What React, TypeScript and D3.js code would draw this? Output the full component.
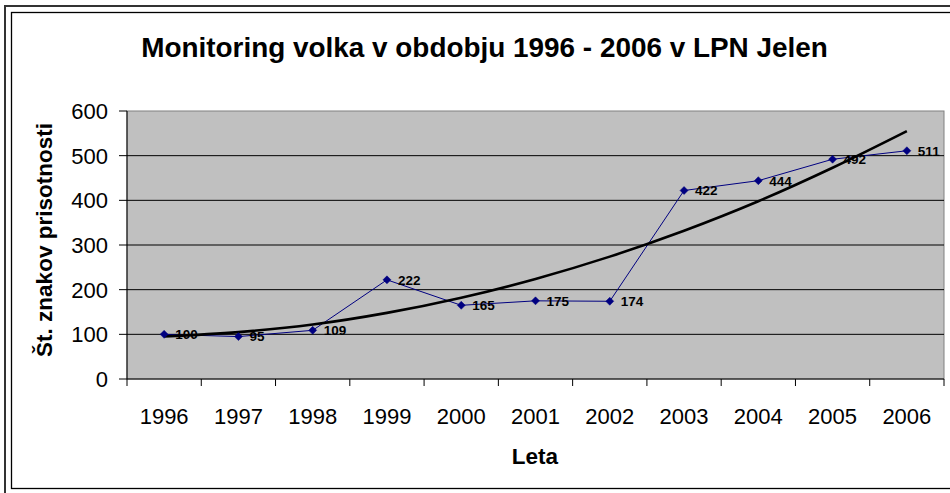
import React from 'react';
import * as d3 from 'd3';

const years = ['1996', '1997', '1998', '1999', '2000', '2001', '2002', '2003', '2004', '2005', '2006'];
const counts = [100, 95, 109, 222, 165, 175, 174, 422, 444, 492, 511];
const trendValues = [95, 105, 122, 148, 182, 224, 274, 332, 398, 473, 555];
const yTicks = [0, 100, 200, 300, 400, 500, 600];

const W = 950;
const H = 493;
const FONT = '"Liberation Sans", Arial, Helvetica, sans-serif';

export default function App() {
  const plot = { left: 127, right: 944, top: 111, bottom: 379 };
  const x = d3.scaleBand<string>().domain(years).range([plot.left, plot.right]).paddingInner(0).paddingOuter(0);
  const y = d3.scaleLinear().domain([0, 600]).range([plot.bottom, plot.top]);
  const cx = (yr: string) => (x(yr) as number) + x.bandwidth() / 2;

  const dataLine = d3
    .line<number>()
    .x((_, i) => cx(years[i]))
    .y((d) => y(d))(counts) as string;

  const trendLine = d3
    .line<number>()
    .x((_, i) => cx(years[i]))
    .y((d) => y(d))
    .curve(d3.curveCatmullRom)(trendValues) as string;

  const bandEdges = years.map((yr) => x(yr) as number).concat([plot.right]);

  return (
    <svg
      width={W}
      height={H}
      style={{ position: 'fixed', left: 0, top: 0, background: '#fff' }}
      fontFamily={FONT}
    >
      <rect x={0} y={0} width={W} height={H} fill="#fff" />
      {/* frame */}
      <rect x={5} y={6} width={980} height={520} fill="none" stroke="#333" strokeWidth={2} />
      <rect x={11.5} y={12.5} width={970} height={476} fill="none" stroke="#000" strokeWidth={1.3} />

      {/* title */}
      <text x={484.5} y={57} textAnchor="middle" fontWeight="bold" fontSize={27.9} fill="#000">
        Monitoring volka v obdobju 1996 - 2006 v LPN Jelen
      </text>

      {/* plot area */}
      <rect
        x={plot.left}
        y={plot.top}
        width={plot.right - plot.left}
        height={plot.bottom - plot.top}
        fill="#C0C0C0"
        stroke="#808080"
        strokeWidth={1}
      />

      {/* gridlines */}
      {yTicks
        .filter((t) => t > 0 && t < 600)
        .map((t) => (
          <line key={'g' + t} x1={plot.left} x2={plot.right} y1={y(t)} y2={y(t)} stroke="#000" strokeWidth={1} />
        ))}

      {/* y axis */}
      <line x1={plot.left} x2={plot.left} y1={plot.top} y2={plot.bottom} stroke="#000" strokeWidth={1} />
      {yTicks.map((t) => (
        <g key={'y' + t}>
          <line x1={plot.left - 8} x2={plot.left} y1={y(t)} y2={y(t)} stroke="#000" strokeWidth={1} />
          <text x={108} y={y(t)} dy="0.36em" textAnchor="end" fontSize={22} fill="#000">
            {t}
          </text>
        </g>
      ))}

      {/* x axis */}
      <line x1={plot.left} x2={plot.right} y1={plot.bottom} y2={plot.bottom} stroke="#000" strokeWidth={1} />
      {bandEdges.map((e, i) => (
        <line key={'xt' + i} x1={e} x2={e} y1={plot.bottom} y2={plot.bottom + 7} stroke="#000" strokeWidth={1} />
      ))}
      {years.map((yr) => (
        <text key={'xl' + yr} x={cx(yr)} y={424} textAnchor="middle" fontSize={22} fill="#000">
          {yr}
        </text>
      ))}

      {/* axis titles */}
      <text x={535} y={464} textAnchor="middle" fontWeight="bold" fontSize={22.5} fill="#000">
        Leta
      </text>
      <text
        transform={`translate(51.5, 240) rotate(-90)`}
        textAnchor="middle"
        fontWeight="bold"
        fontSize={22.5}
        fill="#000"
      >
        Št. znakov prisotnosti
      </text>

      {/* data series */}
      <path d={dataLine} fill="none" stroke="#000080" strokeWidth={1} />

      {/* trend line */}
      <path d={trendLine} fill="none" stroke="#000" strokeWidth={2.6} />

      {counts.map((v, i) => (
        <path
          key={'m' + i}
          transform={`translate(${cx(years[i])},${y(v)})`}
          d="M0,-4L4,0L0,4L-4,0Z"
          fill="#000080"
          stroke="#000080"
          strokeWidth={0.5}
        />
      ))}

      {counts.map((v, i) => (
        <text
          key={'l' + i}
          x={cx(years[i]) + 11}
          y={y(v)}
          dy="0.36em"
          fontSize={13.5}
          fontWeight="bold"
          fill="#000"
        >
          {v}
        </text>
      ))}
    </svg>
  );
}
